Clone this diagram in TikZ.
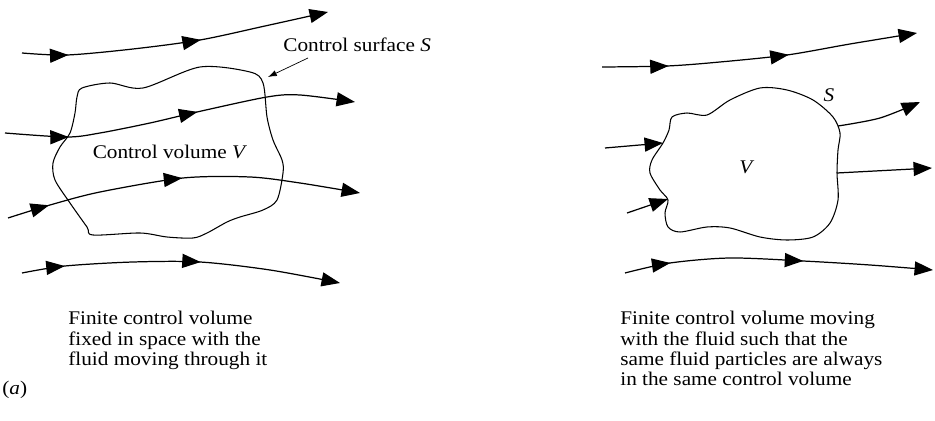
\documentclass[tikz,border=0pt]{standalone}
\usepackage{fontspec}
\setmainfont{Liberation Serif}[FakeStretch=1.1]
\usetikzlibrary{arrows.meta,decorations.markings}

\begin{document}
\begin{tikzpicture}[x=0.02cm,y=-0.02cm,>={Triangle[length=10.5pt,width=8pt]}, every node/.style={font=\fontsize{11}{11.6}\selectfont}]
\tikzstyle{stream}=[->,line width=0.7pt]
\tikzstyle{surface}=[line width=0.6pt]
\tikzstyle{pointer}=[-{Latex[length=5pt,width=3.5pt]},line width=0.4pt]
\tikzset{twomarks/.style 2 args={postaction={decorate},decoration={markings,mark=at position #1 with {\arrow{>}},mark=at position #2 with {\arrow{>}}}}}
\useasboundingbox (0,0) rectangle (935,421);
% (a) control volume fixed in space
\draw[stream,twomarks={0.15}{0.58}] plot[smooth] coordinates {(22,53) (67,55) (133,49) (200,40) (265,26) (328,12)};
\draw[stream,twomarks={0.18}{0.55}] plot[smooth] coordinates {(5,133) (67,137) (100,133) (150,123) (197,112) (267,97) (300,95) (355,102)};
\draw[stream,twomarks={0.12}{0.50}] plot[smooth] coordinates {(8,218) (50,205) (100,192) (183,178) (250,177) (300,183) (360,193)};
\draw[stream,twomarks={0.135}{0.56}] plot[smooth] coordinates {(22,273) (65,266) (133,262) (200,262) (270,270) (340,283)};
\draw[surface] plot[smooth cycle] coordinates {(143,88) (200,67) (250,72) (263,83) (267,117) (273,140) (282,160) (283,173) (277,200) (263,210) (240,217) (227,222) (207,233) (193,238) (167,237) (140,233) (93,235) (87,227) (70,203) (55,180) (53,163) (60,147) (70,133) (75,113) (77,97) (82,88) (110,83)};
\node (cvlabel) at (170,152) {Control volume \textit{V}};
\node[anchor=west,inner sep=0] (cslabel) at (283,45) {Control surface \textit{S}};
\coordinate (cstail) at (308,58);
\coordinate (csend) at (268,77);
\draw[pointer] (cstail) -- (csend);
% control volume moving with the fluid
\draw[stream,twomarks={0.21}{0.59}] plot[smooth] coordinates {(602,67) (667,66) (720,62) (787,55) (850,44) (917,33)};
\draw[stream] (605,148) -- (663,143);
\draw[stream] (627,213) -- (668,199);
\draw[stream] plot[smooth] coordinates {(838,126) (880,118) (920,102)};
\draw[stream] (837,173) -- (932,168);
\draw[stream,twomarks={0.15}{0.58}] plot[smooth] coordinates {(625,273) (670,263) (730,258) (803,261) (870,265) (933,270)};
\draw[surface] plot[smooth cycle] coordinates {(730,100) (760,88) (787,90) (813,100) (833,117) (840,133) (838,150) (837,173) (838,200) (830,223) (813,237) (787,240) (760,237) (730,228) (707,227) (680,232) (668,227) (665,213) (668,200) (660,190) (650,173) (652,160) (663,143) (669,130) (672,117) (687,113) (707,115)};
\node (slabel) at (829,95) {\textit{S}};
\node (vlabel) at (747,167) {\textit{V}};
% captions
\node[anchor=north west,inner sep=0,align=left] (fixedtext) at (68,311) {Finite control volume\\fixed in space with the\\fluid moving through it};
\node[anchor=north west,inner sep=0,align=left] (movingtext) at (620,311) {Finite control volume moving\\with the fluid such that the\\same fluid particles are always\\in the same control volume};
\node[anchor=west,inner sep=0] (partlabel) at (2,390) {(\textit{a})};
\end{tikzpicture}
\end{document}
